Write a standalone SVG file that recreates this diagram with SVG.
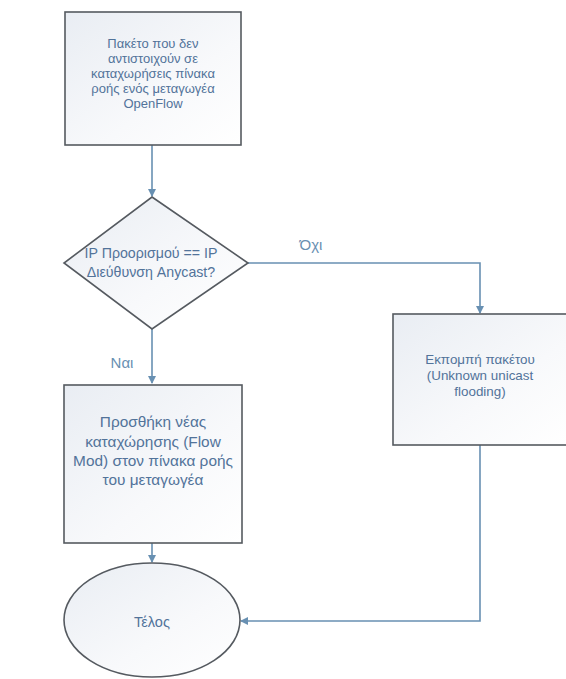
<svg xmlns="http://www.w3.org/2000/svg" width="566" height="679" viewBox="0 0 566 679">
  <style>
    .shape { stroke: #555a60; stroke-width: 1.6; fill: url(#g); }
    .t { font-family: "Liberation Sans", "Noto Sans", sans-serif; fill: #52739a; text-anchor: middle; font-size: 13px; }
    .d { font-size: 14.2px; }
    .b2 { font-size: 15.4px; }
    .b3 { font-size: 13.4px; }
    .e { font-size: 14.5px; }
    .c { stroke: #6890b2; stroke-width: 1.6; fill: none; }
    .lbl { font-family: "Liberation Sans", "Noto Sans", sans-serif; fill: #6890b2; text-anchor: middle; font-size: 15px; }
  </style>
  <defs>
    <linearGradient id="g" x1="0" y1="0" x2="1" y2="1">
      <stop offset="0" stop-color="#e9edf3"/>
      <stop offset="0.6" stop-color="#f8f9fb"/>
      <stop offset="1" stop-color="#ffffff"/>
    </linearGradient>
    <marker id="arr" markerWidth="8" markerHeight="8" refX="7" refY="4" orient="auto" markerUnits="userSpaceOnUse">
      <path d="M0,0 L8,4 L0,8 Z" fill="#6890b2"/>
    </marker>
  </defs>
  <rect width="566" height="679" fill="#ffffff"/>

  <g id="connectors">
    <line class="c" x1="152" y1="145" x2="152" y2="196" marker-end="url(#arr)"/>
    <line class="c" x1="152" y1="329" x2="152" y2="383" marker-end="url(#arr)"/>
    <polyline class="c" points="248,263 480,263 480,313" marker-end="url(#arr)"/>
    <line class="c" x1="152" y1="543" x2="152" y2="562" marker-end="url(#arr)"/>
    <polyline class="c" points="480,445 480,621 241,621" marker-end="url(#arr)"/>
    <text class="lbl" x="122" y="368">Ναι</text>
    <text class="lbl" x="311" y="250">Όχι</text>
  </g>

  <g id="start">
    <rect class="shape" x="65" y="12" width="176" height="133"/>
    <text class="t" x="153" y="48">Πακέτο που δεν</text>
    <text class="t" x="153" y="63">αντιστοιχούν σε</text>
    <text class="t" x="153" y="78">καταχωρήσεις πίνακα</text>
    <text class="t" x="153" y="93">ροής ενός μεταγωγέα</text>
    <text class="t" x="153" y="108">OpenFlow</text>
  </g>

  <g id="decision">
    <polygon class="shape" points="152,197 248,263 152,329 64,263"/>
    <text class="t d" x="151" y="258">IP Προορισμού == IP</text>
    <text class="t d" x="151" y="277">Διεύθυνση Anycast?</text>
  </g>

  <g id="addflow">
    <rect class="shape" x="64" y="385" width="178" height="158"/>
    <text class="t b2" x="153" y="427">Προσθήκη νέας</text>
    <text class="t b2" x="153" y="447">καταχώρησης  (Flow</text>
    <text class="t b2" x="153" y="466">Mod) στον πίνακα ροής</text>
    <text class="t b2" x="153" y="485">του μεταγωγέα</text>
  </g>

  <g id="flood">
    <rect class="shape" x="393" y="314" width="175" height="131"/>
    <text class="t b3" x="480" y="364">Εκπομπή πακέτου</text>
    <text class="t b3" x="480" y="380">(Unknown unicast</text>
    <text class="t b3" x="480" y="396">flooding)</text>
  </g>

  <g id="end">
    <ellipse class="shape" cx="152" cy="620" rx="88" ry="57"/>
    <text class="t e" x="152" y="627">Τέλος</text>
  </g>
</svg>
